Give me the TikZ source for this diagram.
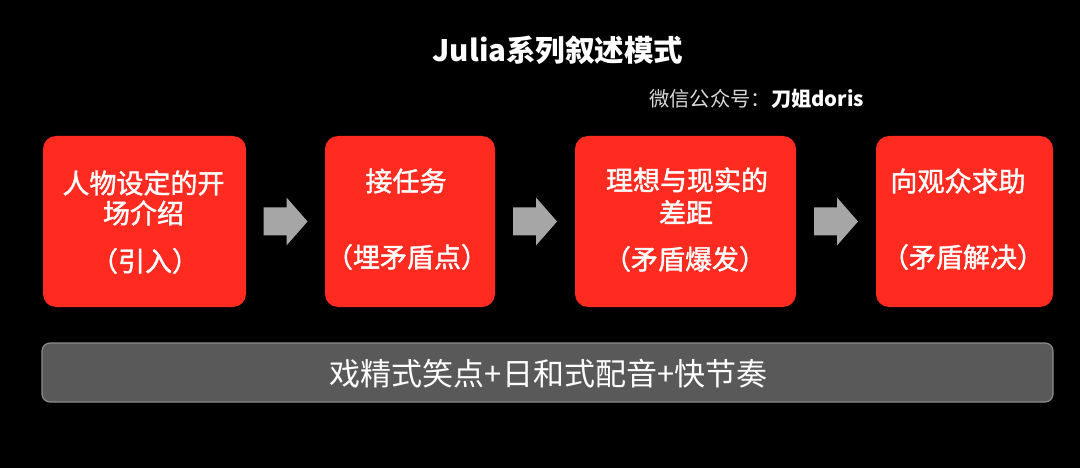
\documentclass[tikz,border=0pt]{standalone}
\usepackage{fontspec}
\setmainfont{Noto Sans CJK SC}
\newfontfamily\cjkbox{Noto Sans CJK SC}[FakeBold=1.5]
\usetikzlibrary{calc}
\definecolor{boxred}{HTML}{FF2B20}
\definecolor{arrowgray}{HTML}{A6A6A6}
\definecolor{barfill}{HTML}{595959}
\definecolor{barline}{HTML}{8C8C8C}
\tikzset{
  redbox/.style={fill=boxred, rounded corners=13pt, inner sep=0pt},
  blockarrow/.style={fill=arrowgray},
  boxtext/.style={text=white, inner sep=0pt, font=\cjkbox\fontsize{27}{30}\selectfont},
}
\newcommand{\blockarrowat}[1]{%
  \fill[blockarrow] ($(#1)+(-22,-14)$) -- ($(#1)+(1,-14)$) -- ($(#1)+(1,-24)$) --
    ($(#1)+(22,0)$) -- ($(#1)+(1,24)$) -- ($(#1)+(1,14)$) -- ($(#1)+(-22,14)$) -- cycle;}
\begin{document}
\begin{tikzpicture}[x=1pt,y=-1pt]
\fill[black] (0,0) rectangle (1080,468);
\useasboundingbox (0,0) rectangle (1080,468);
% title
\node[text=white, inner sep=0pt, font=\bfseries\fontsize{29.5}{32}\selectfont] (title) at (558,50) {Julia系列叙述模式};
\node[anchor=west, inner sep=0pt, font=\fontsize{20.3}{23}\selectfont] (sub) at (649,99)
  {\textcolor[HTML]{D9D9D9}{微信公众号：}\textcolor{white}{\bfseries 刀姐doris}};
% boxes
\node[redbox, minimum width=203pt, minimum height=171pt] (b1) at (144.5,221.5) {};
\node[redbox, minimum width=170pt, minimum height=171pt] (b2) at (410,221.5) {};
\node[redbox, minimum width=221pt, minimum height=171pt] (b3) at (685.5,221.5) {};
\node[redbox, minimum width=177pt, minimum height=171pt] (b4) at (964.5,221.5) {};
% box texts
\node[boxtext] (t1a) at (143.5,183) {人物设定的开};
\node[boxtext] (t1b) at (143.5,213) {场介绍};
\node[boxtext] (t1c) at (145,261) {（引入）};
\node[boxtext] (t2a) at (406,181) {接任务};
\node[boxtext] (t2b) at (407,257) {（埋矛盾点）};
\node[boxtext] (t3a) at (687,180) {理想与现实的};
\node[boxtext] (t3b) at (686,212) {差距};
\node[boxtext] (t3c) at (685,259) {（矛盾爆发）};
\node[boxtext] (t4a) at (958,181) {向观众求助};
\node[boxtext] (t4b) at (963,257) {（矛盾解决）};
% arrows
\coordinate (a1) at ($(b1.east)!0.5!(b2.west)$);
\coordinate (a2) at ($(b2.east)!0.5!(b3.west)$);
\coordinate (a3) at ($(b3.east)!0.5!(b4.west)$);
\blockarrowat{a1}
\blockarrowat{a2}
\blockarrowat{a3}
% bottom bar
\node[fill=barfill, draw=barline, line width=1.2pt, rounded corners=8pt,
  minimum width=1011pt, minimum height=59pt, inner sep=0pt] (bar) at (547.5,372.5) {};
\node[text=white, inner sep=0pt, font=\fontsize{31}{34}\selectfont] (bartext) at (548.5,374) {戏精式笑点+日和式配音+快节奏};
\end{tikzpicture}
\end{document}
